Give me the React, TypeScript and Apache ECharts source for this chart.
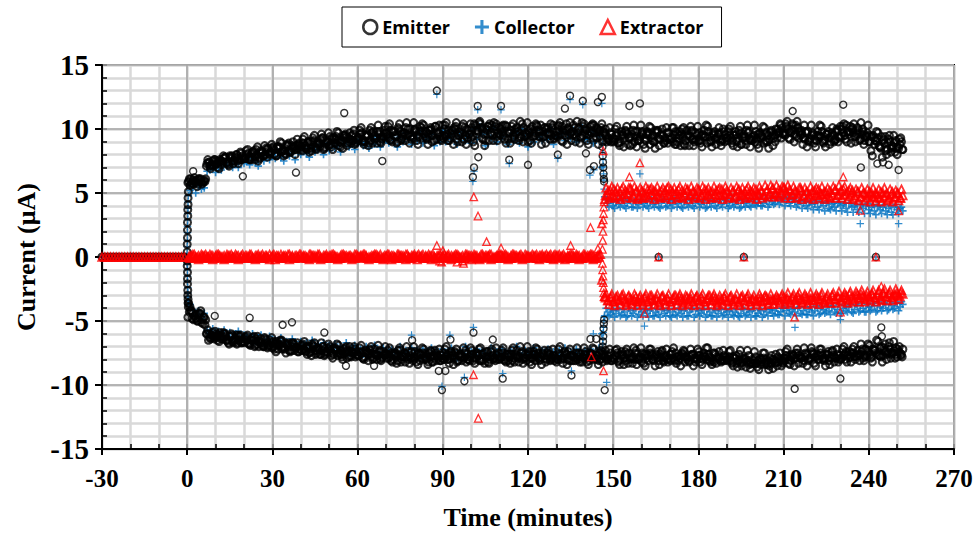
import React, { useEffect, useRef } from "react";
import * as echarts from "echarts";

// ---------- sampling of the readings (minutes) ----------
const firstReading = 1; // main readings every minute from t = 1
const readingStep = 1;
const firstHalfReading = 0.5;
const firstQ1Reading = 0.25;
const firstQ3Reading = 0.75;
const lateStartA = 147.5; // extra readings after the change-over
const lateStartB = 147.25;

// before the start (t < 0) every current is zero
const preMinutes = [-30,-29,-28,-27,-26,-25,-24,-23,-22,-21,-20,-19,-18,-17,-16,-15,-14,-13,-12,-11,-10,-9,-8,-7,-6,-5,-4,-3,-2,-1];
const preCurrent = [0,0,0,0,0,0,0,0,0,0,0,0,0,0,0,0,0,0,0,0,0,0,0,0,0,0,0,0,0,0];

// ---------- Emitter (µA) ----------
const emitterPos = [
5.6,6.0,5.8,6.1,5.9,6.0,7.3,7.1,7.5,7.2,
7.5,7.2,7.7,7.4,7.9,7.5,7.8,7.3,8.1,7.7,
8.0,7.6,8.2,7.8,7.5,8.3,7.9,8.4,8.0,8.5,
8.1,8.6,8.2,7.9,8.7,8.3,8.5,8.0,8.8,8.4,
8.9,8.5,8.2,9.0,8.6,8.8,9.2,8.4,9.1,8.7,
9.3,8.9,9.1,8.6,9.5,9.4,9.0,9.5,8.8,9.3,
9.6,9.1,9.4,8.9,9.7,9.2,9.8,9.0,9.4,9.7,
9.3,9.9,9.5,9.0,9.8,9.4,10.1,9.6,9.2,9.9,
9.5,10.2,9.3,9.8,9.6,10.0,9.1,9.7,9.4,10.3,
9.4,9.9,9.6,10.1,9.2,9.8,10.2,9.5,9.9,9.3,
10.4,9.6,10.6,10.0,9.1,10.2,9.7,10.5,9.4,10.1,
9.8,10.3,9.2,9.9,9.5,10.1,9.3,10.4,9.7,9.0,
10.0,9.4,10.3,9.8,9.5,10.1,9.6,10.4,9.2,9.8,
9.9,10.2,9.5,10.0,9.7,10.3,9.4,10.0,10.5,9.6,
9.6,10.2,9.3,10.1,9.8,10.4,9.6,9.2,9.7,9.0,
9.5,8.9,9.8,9.3,9.6,8.7,9.9,9.4,9.1,9.7,
9.2,9.8,8.8,9.5,9.9,9.3,9.6,8.9,9.7,9.4,
9.0,9.8,9.3,9.6,8.8,9.9,9.4,9.2,9.7,9.1,
9.5,9.9,8.9,9.4,9.7,9.2,9.6,8.7,9.8,9.3,
9.5,9.1,9.8,9.3,8.8,9.6,9.9,9.2,9.4,9.0,
9.6,9.3,8.9,9.7,9.2,9.5,9.0,10.0,10.3,9.7,
10.2,9.8,10.4,9.6,10.1,9.5,9.3,9.7,9.0,9.5,
9.2,9.8,9.4,8.9,9.6,9.3,9.7,9.1,9.9,10.2,
9.7,10.3,9.6,10.0,9.4,10.1,9.2,9.8,9.5,9.0,
9.4,8.8,9.3,8.6,9.1,8.3,9.2,8.5,8.9,8.0,
8.8,8.4];
const emitterPosHalf = [
5.9,5.7,6.2,5.5,6.0,5.8,6.1,7.4,7.2,7.6,
7.3,7.6,7.4,7.8,7.2,7.7,7.5,8.0,7.6,7.9,
7.7,8.1,7.8,8.3,8.0,7.7,8.2,8.0,8.5,8.2,
8.4,7.9,8.6,8.3,8.1,8.7,8.2,8.6,8.4,8.9,
8.3,8.7,9.0,8.5,9.1,8.4,8.9,9.3,8.6,9.0,
8.8,9.2,9.4,8.7,9.1,9.5,8.9,9.2,9.6,9.0,
9.3,9.7,9.0,9.5,9.1,9.8,9.3,9.6,9.2,9.9,
9.6,9.1,9.8,9.4,10.0,9.2,9.7,9.5,10.0,9.3,
9.8,9.4,10.1,9.6,9.2,9.9,9.5,10.2,9.7,9.1,
10.0,9.6,9.3,9.9,10.2,9.5,9.7,9.2,10.0,9.6,
9.4,10.3,9.8,10.1,9.6,9.9,10.4,9.5,10.2,9.7,
10.0,9.5,10.2,9.7,9.3,10.0,9.8,9.4,10.1,9.6,
9.7,10.2,9.5,9.9,10.3,9.4,10.0,9.7,10.1,9.5,
10.2,9.6,9.9,10.4,9.5,9.8,10.1,9.7,9.4,10.2,
9.9,9.5,10.3,9.7,10.0,9.4,9.8,9.5,9.1,9.6,
9.2,9.7,9.0,9.5,9.8,9.3,9.6,9.0,9.8,9.4,
9.6,9.1,9.7,9.3,9.0,9.8,9.2,9.5,9.1,9.7,
9.3,9.5,9.0,9.8,9.4,9.1,9.6,9.8,9.2,9.5,
9.1,9.6,9.4,9.8,9.0,9.5,9.3,9.7,9.1,9.6,
9.8,9.3,9.5,9.0,9.6,9.4,9.1,9.7,9.2,9.5,
9.2,9.7,9.4,9.0,9.5,9.8,9.3,9.6,9.8,10.1,
9.5,10.0,9.7,10.3,9.4,9.8,9.6,9.2,9.8,9.3,
9.6,9.1,9.5,9.8,9.2,9.6,9.0,9.5,9.8,9.4,
10.0,9.5,9.8,10.2,9.7,9.4,9.9,9.6,9.1,9.7,
9.0,9.5,9.1,8.7,9.4,8.9,8.4,9.0,8.6,9.1,
8.5,9.0];
const emitterPosQ1 = [
5.8,6.1,5.7,6.0,6.1,5.7,5.9,7.6,6.9,7.2,
7.5,6.9,7.5,7.8,7.3,7.8,7.3,8.0,7.7,7.6,
7.7,8.4,7.6,8.2,8.4,7.8,8.2,8.7,7.8,8.2,
8.6,7.9,8.5,8.9,8.3,8.8,8.2,9.0,8.7,8.5,
8.6,9.4,8.4,9.0,9.3,8.5,9.0,9.6,8.5,8.9,
9.4,8.4,9.2,9.7,8.9,9.3,8.7,9.7,9.1,8.9,
9.1,10.1,8.8,9.6,9.9,8.9,9.5,10.3,8.9,9.6,
9.4,10.4,9.0,9.8,10.1,9.1,9.7,10.5,8.9,9.5,
10.0,8.8,9.8,10.3,9.3,9.9,9.0,10.2,9.6,9.2,
9.3,10.5,9.1,9.9,10.0,9.0,9.6,10.4,8.8,9.6,
10.1,8.7,9.9,10.4,9.2,10.0,9.1,10.3,9.7,9.1,
9.5,10.3,8.9,9.7,10.2,9.2,9.8,10.6,9.0,9.4,
9.9,8.9,9.7,10.2,9.4,9.8,8.9,10.1,9.5,9.3,
9.4,10.5,9.0,9.9,10.1,9.1,9.6,10.6,8.9,9.5,
10.0,8.8,9.7,10.3,9.3,9.9,9.0,10.0,9.3,9.0,
9.1,10.2,8.7,9.6,9.9,8.8,9.4,10.3,8.6,9.2,
9.8,8.5,9.5,10.1,9.0,9.7,8.7,10.0,9.3,8.9,
9.2,10.1,8.8,9.5,10.0,8.7,9.5,10.2,8.7,9.1,
9.7,8.6,9.4,10.2,9.1,9.6,8.8,10.1,9.2,9.0,
9.1,10.2,8.7,9.6,9.9,8.8,9.4,10.3,8.6,9.2,
9.8,8.5,9.5,10.1,9.0,9.7,8.7,10.0,9.7,9.3,
9.6,10.6,9.2,10.0,10.3,9.3,9.9,10.3,8.6,9.2,
9.7,8.6,9.4,10.2,9.1,9.6,8.8,10.1,9.2,9.0,
9.4,10.4,9.0,9.8,10.1,9.0,9.7,10.5,8.8,9.4,
9.5,7.9,9.1,9.7,8.5,9.2,8.0,9.5,8.7,8.2,
8.6,9.3];
const emitterPosQ3 = [
6.1,5.8,5.9,5.7,6.1,5.9,7.1,7.4,7.1,7.6,
7.0,7.5,7.9,7.4,7.1,7.9,7.7,7.5,8.2,7.8,
8.3,7.7,8.1,7.6,8.6,8.1,7.9,8.5,8.1,8.8,
8.0,8.6,9.0,8.3,8.0,8.9,8.7,8.4,9.2,8.7,
9.2,8.5,9.0,8.3,9.5,8.9,8.6,9.3,8.8,9.7,
8.6,9.3,9.8,9.0,8.5,9.6,9.3,8.9,9.9,9.2,
9.9,9.0,9.5,8.7,10.1,9.4,8.9,9.8,9.3,10.2,
10.2,9.2,9.8,8.9,10.4,9.6,9.1,10.0,9.4,10.5,
9.1,9.8,10.4,9.4,8.8,10.1,9.7,9.2,10.3,9.5,
10.3,9.1,9.7,8.8,10.5,9.5,9.0,10.1,9.3,10.4,
9.0,9.9,10.5,9.3,8.7,10.2,9.6,9.1,10.4,9.6,
10.2,9.2,9.8,8.9,10.4,9.6,9.1,10.0,9.4,10.5,
9.1,9.8,10.4,9.4,8.8,10.1,9.7,9.2,10.3,9.5,
10.3,9.1,9.7,8.8,10.5,9.5,9.0,10.1,9.3,10.4,
9.1,9.8,10.4,9.4,8.8,10.1,9.7,9.0,10.1,9.3,
10.0,8.9,9.5,8.6,10.2,9.3,8.8,9.8,9.1,10.3,
8.8,9.6,10.2,9.1,8.5,9.9,9.5,8.9,10.1,9.2,
10.1,8.8,9.6,8.7,10.1,9.4,8.7,9.9,9.0,10.2,
8.9,9.5,10.3,9.0,8.6,9.8,9.4,9.0,10.0,9.3,
10.0,8.9,9.5,8.6,10.2,9.3,8.8,9.8,9.1,10.3,
8.8,9.6,10.2,9.1,8.5,9.9,9.5,9.3,10.4,9.6,
10.4,9.3,9.9,9.0,10.6,9.7,8.8,9.8,9.1,10.3,
8.9,9.5,10.3,9.0,8.6,9.8,9.4,9.0,10.0,9.3,
10.2,9.2,9.8,8.9,10.4,9.6,9.1,10.0,9.4,10.3,
8.3,9.3,9.8,8.6,7.8,9.4,8.9,8.2,9.5,8.5,
9.2,8.4];
const emitterNeg = [
-3.9,-4.4,-4.8,-4.5,-5.1,-4.7,-6.0,-6.3,-5.9,-6.2,
-6.1,-6.4,-6.0,-6.5,-6.2,-6.6,-6.3,-6.1,-6.7,-6.4,
-6.5,-6.8,-6.3,-6.9,-6.6,-6.4,-7.0,-6.7,-6.5,-7.1,
-6.8,-7.2,-6.6,-7.0,-6.9,-7.3,-6.7,-7.1,-7.4,-6.9,
-7.2,-7.0,-7.5,-6.8,-7.3,-7.1,-7.6,-7.0,-7.4,-7.2,
-7.5,-7.1,-7.7,-7.3,-7.6,-7.0,-7.8,-7.4,-7.2,-7.7,
-7.5,-7.9,-7.3,-7.6,-7.8,-7.2,-7.7,-8.0,-7.4,-7.6,
-7.9,-7.5,-7.7,-8.1,-7.3,-7.8,-7.6,-8.0,-7.4,-7.9,
-7.6,-8.1,-7.5,-7.8,-8.2,-7.4,-7.9,-7.7,-8.1,-7.5,
-7.8,-8.0,-7.4,-7.9,-8.2,-7.6,-7.8,-7.3,-8.0,-7.7,
-7.9,-7.5,-8.1,-7.6,-7.8,-8.2,-7.4,-7.9,-7.7,-8.0,
-7.5,-7.8,-8.1,-7.6,-7.9,-7.3,-7.8,-8.0,-7.6,-7.7,
-7.9,-7.4,-7.8,-8.1,-7.6,-7.9,-7.5,-8.0,-7.7,-8.2,
-7.6,-7.9,-7.4,-8.0,-7.7,-8.1,-7.5,-7.8,-8.2,-7.6,
-7.9,-7.5,-8.0,-7.7,-8.1,-7.6,-7.8,-8.0,-7.5,-7.9,
-7.7,-8.1,-7.4,-7.9,-7.6,-8.0,-7.8,-7.3,-7.9,-8.2,
-7.6,-7.9,-7.5,-8.0,-7.7,-8.1,-7.4,-7.8,-8.0,-7.6,
-7.9,-7.5,-8.1,-7.7,-7.4,-8.0,-7.8,-7.6,-8.2,-7.7,
-7.9,-7.5,-8.0,-7.8,-8.1,-7.6,-7.9,-8.2,-7.7,-8.0,
-7.8,-8.2,-7.9,-8.1,-8.3,-7.9,-8.2,-8.4,-8.0,-8.3,
-8.1,-8.4,-7.9,-8.2,-8.5,-8.0,-8.3,-7.8,-8.1,-7.9,
-7.7,-8.0,-7.6,-7.9,-7.5,-7.8,-8.1,-7.6,-7.9,-7.4,
-7.8,-8.0,-7.5,-7.9,-7.7,-8.1,-7.4,-7.8,-7.6,-8.0,
-7.7,-7.4,-7.9,-7.5,-7.8,-7.3,-7.6,-7.9,-7.2,-7.5,
-7.8,-7.3,-7.6,-7.1,-7.7,-7.4,-7.0,-7.6,-7.3,-7.8,
-7.5,-7.2];
const emitterNegHalf = [
-3.6,-4.2,-4.6,-5.0,-4.4,-5.2,-4.9,-6.5,-6.1,-6.4,
-6.3,-5.9,-6.4,-6.2,-6.7,-6.0,-6.5,-6.8,-6.2,-6.6,
-6.3,-6.7,-6.5,-6.2,-6.8,-6.6,-6.9,-6.4,-7.0,-6.7,
-7.0,-6.6,-6.9,-7.2,-6.7,-7.0,-7.3,-6.8,-7.1,-7.2,
-6.9,-7.3,-7.1,-7.4,-7.0,-7.5,-7.2,-7.3,-7.6,-7.1,
-7.3,-7.6,-7.2,-7.5,-7.8,-7.4,-7.3,-7.7,-7.5,-7.4,
-7.7,-7.4,-7.8,-7.5,-7.3,-7.9,-7.6,-7.4,-7.9,-7.7,
-7.6,-7.8,-8.0,-7.5,-7.7,-8.0,-7.5,-7.8,-7.7,-8.1,
-7.8,-7.5,-7.9,-8.0,-7.6,-7.8,-8.2,-7.5,-7.9,-7.7,
-8.0,-7.6,-7.9,-7.7,-7.5,-8.1,-7.7,-7.9,-7.6,-8.1,
-7.6,-7.9,-7.7,-8.1,-7.5,-7.8,-8.0,-7.7,-8.1,-7.5,
-7.8,-8.0,-7.6,-7.8,-8.1,-7.6,-7.9,-7.5,-7.9,-8.1,
-7.6,-7.9,-8.1,-7.5,-7.8,-7.7,-8.0,-7.6,-7.9,-7.8,
-8.0,-7.7,-7.9,-7.6,-8.1,-7.7,-7.9,-8.0,-7.6,-7.9,
-7.7,-8.1,-7.6,-7.9,-7.7,-8.0,-7.6,-7.9,-7.7,-8.1,
-7.8,-7.5,-8.0,-7.7,-8.1,-7.5,-7.9,-8.0,-7.6,-7.8,
-7.9,-7.7,-8.1,-7.6,-7.8,-7.9,-7.6,-8.1,-7.7,-7.9,
-7.6,-8.0,-7.8,-7.9,-7.6,-7.8,-8.1,-7.7,-7.9,-8.0,
-7.7,-8.0,-7.8,-7.6,-7.9,-8.2,-7.8,-7.9,-8.1,-7.8,
-8.0,-8.1,-7.8,-8.3,-8.0,-8.2,-7.9,-8.1,-8.3,-8.1,
-8.3,-8.0,-8.2,-8.4,-8.1,-8.3,-8.0,-8.2,-7.9,-8.2,
-7.9,-7.8,-8.1,-7.7,-7.9,-7.7,-7.9,-7.8,-7.7,-7.9,
-7.6,-7.8,-8.0,-7.7,-7.9,-7.6,-7.9,-7.7,-7.9,-7.7,
-7.9,-7.6,-7.7,-7.8,-7.5,-7.8,-7.7,-7.4,-7.7,-7.3,
-7.6,-7.2,-7.5,-7.7,-7.0,-7.3,-7.6,-7.2,-7.5,-7.1,
-7.4,-7.6];
const emitterNegQ1 = [
-4.7,-4.2,-4.9,-4.5,-4.4,-4.9,-5.3,-5.7,-6.4,-6.2,
-6.0,-6.6,-6.2,-6.0,-6.5,-6.2,-6.7,-6.1,-6.5,-6.7,
-6.7,-6.1,-6.9,-6.5,-6.4,-7.0,-6.7,-6.3,-7.1,-6.9,
-6.6,-7.4,-6.8,-6.5,-7.2,-6.8,-7.4,-6.7,-7.1,-7.4,
-7.3,-6.6,-7.6,-7.0,-6.9,-7.6,-7.2,-6.7,-7.7,-7.4,
-7.0,-7.9,-7.3,-6.9,-7.6,-7.2,-7.9,-7.0,-7.5,-7.8,
-7.7,-6.9,-8.0,-7.4,-7.2,-8.0,-7.6,-6.9,-8.1,-7.6,
-7.9,-7.1,-8.2,-7.6,-7.3,-8.2,-7.7,-7.0,-8.3,-7.9,
-7.4,-8.4,-7.6,-7.2,-8.0,-7.5,-8.2,-7.3,-7.8,-8.1,
-8.0,-7.0,-8.3,-7.5,-7.4,-8.1,-7.8,-7.1,-8.2,-7.8,
-7.3,-8.3,-7.7,-7.1,-8.1,-7.4,-8.3,-7.2,-7.9,-8.0,
-7.9,-7.1,-8.2,-7.6,-7.3,-8.2,-7.7,-7.0,-8.3,-7.9,
-7.4,-8.4,-7.6,-7.2,-8.0,-7.5,-8.2,-7.3,-7.8,-8.1,
-8.0,-7.0,-8.3,-7.5,-7.4,-8.1,-7.8,-7.1,-8.2,-7.8,
-7.4,-8.4,-7.6,-7.2,-8.0,-7.5,-8.2,-7.3,-7.8,-8.1,
-8.0,-7.2,-8.4,-7.6,-7.4,-8.3,-7.8,-7.1,-8.4,-8.0,
-7.5,-8.5,-7.7,-7.2,-8.1,-7.6,-8.4,-7.3,-7.9,-8.2,
-8.1,-7.1,-8.3,-7.7,-7.5,-8.2,-7.9,-7.2,-8.5,-7.9,
-7.4,-8.4,-7.8,-7.1,-8.2,-7.5,-8.3,-7.4,-8.0,-8.1,
-8.1,-7.3,-8.5,-7.7,-7.6,-8.5,-8.0,-7.3,-8.7,-8.3,
-7.8,-8.8,-8.0,-7.5,-8.4,-7.9,-8.7,-7.6,-8.2,-8.5,
-8.1,-7.2,-8.4,-7.7,-7.5,-8.3,-7.9,-7.1,-8.5,-8.0,
-7.5,-8.5,-7.7,-7.2,-8.1,-7.6,-8.4,-7.3,-7.9,-8.2,
-7.9,-7.0,-8.2,-7.4,-7.2,-8.0,-7.6,-6.8,-8.1,-7.7,
-6.9,-8.2,-7.3,-6.6,-7.8,-7.1,-8.0,-6.7,-7.5,-7.9,
-7.2,-7.7];
const emitterNegQ3 = [
-4.3,-4.8,-4.6,-5.0,-4.2,-4.7,-6.0,-6.0,-6.3,-5.8,
-6.5,-6.2,-5.9,-6.5,-6.8,-6.1,-6.4,-6.7,-6.1,-6.6,
-6.2,-6.8,-6.5,-7.0,-6.2,-6.7,-7.0,-6.5,-6.9,-6.3,
-7.2,-6.8,-6.5,-7.1,-7.5,-6.7,-7.0,-7.3,-6.7,-7.2,
-6.8,-7.4,-7.1,-7.7,-6.7,-7.3,-7.6,-7.0,-7.5,-6.8,
-7.7,-7.2,-6.8,-7.6,-8.0,-7.1,-7.4,-7.8,-7.0,-7.6,
-7.1,-7.9,-7.5,-8.1,-7.0,-7.6,-8.0,-7.3,-7.8,-7.0,
-7.3,-8.1,-7.6,-8.3,-7.1,-7.8,-8.2,-7.4,-7.9,-7.0,
-8.2,-7.6,-7.1,-7.9,-8.4,-7.3,-7.7,-8.1,-7.2,-7.9,
-7.2,-8.0,-7.7,-8.4,-7.2,-7.7,-8.1,-7.5,-8.0,-7.1,
-8.1,-7.5,-7.2,-8.0,-8.3,-7.4,-7.8,-8.0,-7.1,-7.8,
-7.3,-8.1,-7.6,-8.3,-7.1,-7.8,-8.2,-7.4,-7.9,-7.0,
-8.2,-7.6,-7.1,-7.9,-8.4,-7.3,-7.7,-8.1,-7.2,-7.9,
-7.2,-8.0,-7.7,-8.4,-7.2,-7.7,-8.1,-7.5,-8.0,-7.1,
-8.2,-7.6,-7.1,-7.9,-8.4,-7.3,-7.7,-8.1,-7.2,-7.9,
-7.3,-8.2,-7.7,-8.4,-7.2,-7.9,-8.3,-7.5,-8.0,-7.1,
-8.3,-7.6,-7.2,-8.0,-8.5,-7.4,-7.8,-8.2,-7.2,-8.0,
-7.4,-8.1,-7.8,-8.5,-7.3,-7.8,-8.2,-7.6,-7.9,-7.2,
-8.2,-7.7,-7.1,-8.1,-8.4,-7.5,-7.9,-8.1,-7.3,-7.9,
-7.4,-8.3,-7.9,-8.6,-7.3,-8.1,-8.6,-7.7,-8.3,-7.4,
-8.6,-7.9,-7.5,-8.3,-8.8,-7.7,-8.1,-8.5,-7.5,-8.3,
-7.4,-8.3,-7.8,-8.5,-7.2,-7.9,-8.3,-7.5,-8.1,-7.1,
-8.3,-7.6,-7.2,-8.0,-8.5,-7.4,-7.8,-8.2,-7.2,-8.0,
-7.2,-8.0,-7.6,-8.2,-7.0,-7.7,-8.1,-7.2,-7.8,-6.8,
-7.9,-7.2,-6.5,-7.7,-8.2,-6.8,-7.4,-7.9,-6.6,-7.6,
-7.0,-7.8];

// ---------- Collector (µA) ----------
const collectorPos = [
5.2,5.5,5.0,5.6,5.3,5.4,6.7,6.8,7.0,6.6,
7.0,6.8,7.2,7.1,7.4,7.0,7.3,7.0,7.6,7.3,
7.5,7.2,7.7,7.4,7.1,7.9,7.5,8.0,7.6,8.0,
7.7,8.2,7.8,7.5,8.3,7.9,8.1,7.6,8.4,8.0,
8.5,8.1,7.8,8.6,8.2,8.4,8.8,8.0,8.7,8.3,
8.9,8.5,8.7,8.2,9.1,9.0,8.6,9.1,8.4,8.9,
9.2,8.7,9.0,8.5,9.3,8.8,9.4,8.6,9.0,9.3,
8.9,9.5,9.1,8.6,9.4,9.0,9.7,9.2,8.8,9.5,
9.1,9.8,8.9,9.4,9.2,9.6,8.7,9.3,9.0,9.9,
9.0,9.5,9.2,9.7,8.8,9.4,9.8,9.1,9.5,8.9,
10.0,9.2,10.2,9.6,8.7,9.8,9.3,10.1,9.0,9.7,
9.4,9.9,8.8,9.5,9.1,9.7,8.9,10.0,9.3,8.6,
9.6,9.0,9.9,9.4,9.1,9.7,9.2,10.0,8.8,9.4,
9.5,9.8,9.1,9.6,9.3,9.9,9.0,9.6,10.1,9.2,
9.2,9.8,8.9,9.7,9.4,7.0,4.7,4.2,4.4,4.0,
4.3,4.1,4.5,4.0,4.2,4.4,3.9,4.3,4.1,4.4,
4.2,4.0,4.4,4.1,4.3,3.9,4.2,4.5,4.0,4.3,
4.1,4.4,4.2,3.9,4.3,4.1,4.5,4.0,4.2,4.4,
4.1,4.3,3.9,4.2,4.4,4.0,4.3,4.1,4.5,4.2,
4.0,4.3,4.1,4.4,3.9,4.2,4.3,4.0,4.4,4.1,
4.3,4.0,4.2,4.4,4.1,4.3,4.2,4.5,4.3,4.6,
4.4,4.2,4.5,4.3,4.1,4.4,4.2,4.0,4.3,4.1,
4.2,3.9,4.3,4.0,4.2,3.8,4.1,3.9,4.2,4.0,
4.1,3.8,4.2,3.9,4.0,3.7,4.1,3.8,4.0,3.7,
3.9,3.6,4.0,3.7,3.9,3.6,3.8,3.5,3.9,3.7,
3.8,3.6];
const collectorPosLate = [
4.5,3.9,4.4,3.8,4.5,3.9,4.4,3.8,4.5,3.9,
4.4,3.8,4.5,3.9,4.4,3.8,4.5,3.9,4.4,3.8,
4.5,3.9,4.4,3.8,4.5,3.9,4.4,3.8,4.5,3.9,
4.4,3.8,4.5,3.9,4.4,3.8,4.5,3.9,4.4,3.8,
4.5,3.9,4.4,3.8,4.5,3.9,4.4,3.8,4.5,3.9,
4.4,3.9,4.5,4.0,4.6,4.0,4.5,3.9,4.6,4.1,
4.7,4.1,4.6,4.0,4.7,4.0,4.5,3.9,4.4,3.8,
4.4,3.8,4.3,3.7,4.4,3.7,4.3,3.6,4.3,3.7,
4.2,3.6,4.3,3.6,4.2,3.5,4.2,3.5,4.1,3.5,
4.1,3.4,4.2,3.4,4.1,3.3,4.0,3.4,4.1,3.3,
4.0,3.3,4.1,3.4,3.9];
const collectorNeg = [
-3.7,-4.1,-4.5,-4.2,-4.8,-4.4,-5.7,-6.0,-5.6,-5.9,
-5.8,-6.1,-5.7,-6.2,-5.9,-6.3,-6.0,-5.8,-6.4,-6.1,
-6.2,-6.5,-6.0,-6.6,-6.3,-6.1,-6.7,-6.4,-6.2,-6.8,
-6.5,-6.9,-6.3,-6.7,-6.6,-7.0,-6.4,-6.8,-7.1,-6.6,
-6.9,-6.7,-7.2,-6.5,-7.0,-6.8,-7.3,-6.7,-7.1,-6.9,
-7.2,-6.8,-7.4,-7.0,-7.3,-6.7,-7.5,-7.1,-6.9,-7.4,
-7.2,-7.6,-7.0,-7.3,-7.5,-6.9,-7.4,-7.7,-7.1,-7.3,
-7.6,-7.2,-7.4,-7.8,-7.0,-7.5,-7.3,-7.7,-7.1,-7.6,
-7.3,-7.8,-7.2,-7.5,-7.9,-7.1,-7.6,-7.4,-7.8,-7.2,
-7.5,-7.7,-7.1,-7.6,-7.9,-7.3,-7.5,-7.0,-7.7,-7.4,
-7.6,-7.2,-7.8,-7.3,-7.5,-7.9,-7.1,-7.6,-7.4,-7.7,
-7.2,-7.5,-7.8,-7.3,-7.6,-7.0,-7.5,-7.7,-7.3,-7.4,
-7.6,-7.1,-7.5,-7.8,-7.3,-7.6,-7.2,-7.7,-7.4,-7.9,
-7.3,-7.6,-7.1,-7.7,-7.4,-7.8,-7.2,-7.5,-7.9,-7.3,
-7.6,-7.2,-7.7,-7.4,-7.1,-6.0,-4.6,-4.3,-4.5,-4.2,
-4.4,-4.1,-4.5,-4.3,-4.6,-4.2,-4.4,-4.0,-4.5,-4.3,
-4.1,-4.4,-4.2,-4.6,-4.3,-4.5,-4.1,-4.4,-4.2,-4.6,
-4.3,-4.5,-4.1,-4.4,-4.2,-4.6,-4.3,-4.0,-4.5,-4.2,
-4.4,-4.1,-4.5,-4.3,-4.6,-4.2,-4.4,-4.1,-4.5,-4.3,
-4.2,-4.5,-4.3,-4.6,-4.4,-4.1,-4.5,-4.3,-4.2,-4.6,
-4.4,-4.2,-4.5,-4.3,-4.1,-4.4,-4.2,-4.5,-4.3,-4.0,
-4.2,-4.4,-4.1,-4.3,-4.0,-4.4,-4.2,-4.5,-4.1,-4.3,
-4.2,-4.0,-4.4,-4.1,-4.3,-4.2,-3.9,-4.3,-4.1,-4.4,
-4.0,-4.2,-3.9,-4.3,-4.1,-3.8,-4.2,-4.0,-4.3,-3.9,
-4.1,-3.8,-4.2,-3.9,-4.0,-3.7,-4.1,-3.8,-4.0,-3.6,
-3.9,-3.7];
const collectorNegLate = [
-4.0,-4.6,-4.1,-4.7,-4.0,-4.6,-4.1,-4.7,-4.0,-4.6,
-4.1,-4.7,-4.0,-4.6,-4.1,-4.7,-4.0,-4.6,-4.1,-4.7,
-4.0,-4.6,-4.1,-4.7,-4.0,-4.6,-4.1,-4.7,-4.0,-4.6,
-4.1,-4.7,-4.0,-4.6,-4.1,-4.7,-4.0,-4.6,-4.1,-4.7,
-4.0,-4.6,-4.1,-4.7,-4.0,-4.6,-4.1,-4.7,-4.0,-4.6,
-4.1,-4.7,-4.0,-4.6,-4.1,-4.7,-4.0,-4.6,-4.1,-4.6,
-4.0,-4.5,-4.0,-4.6,-3.9,-4.5,-4.0,-4.6,-3.9,-4.5,
-3.9,-4.5,-3.9,-4.6,-3.8,-4.5,-3.9,-4.4,-3.8,-4.5,
-3.8,-4.4,-3.7,-4.4,-3.8,-4.3,-3.7,-4.4,-3.7,-4.3,
-3.6,-4.3,-3.7,-4.2,-3.6,-4.3,-3.5,-4.2,-3.6,-4.2,
-3.5,-4.1,-3.6,-4.2,-3.5];

// ---------- Extractor (µA) ----------
const extractorPos = [
0.1,0.2,0.0,0.1,0.2,0.1,0.0,0.2,0.1,0.1,
0.2,0.0,0.1,0.2,0.1,0.0,0.2,0.1,0.1,0.0,
0.1,0.2,0.0,0.1,0.2,0.1,0.0,0.1,0.2,0.1,
0.0,0.1,0.2,0.1,0.0,0.2,0.1,0.1,0.0,0.2,
0.1,0.0,0.2,0.1,0.1,0.2,0.0,0.1,0.2,0.1,
0.2,0.1,0.0,0.1,0.2,0.1,0.1,0.0,0.2,0.1,
0.1,0.2,0.1,0.0,0.1,0.2,0.1,0.2,0.0,0.1,
0.2,0.1,0.0,0.2,0.1,0.1,0.2,0.0,0.1,0.2,
0.1,0.0,0.2,0.1,0.2,0.1,0.0,0.1,0.2,0.1,
0.0,0.2,0.1,0.1,0.2,0.0,0.1,0.2,0.1,0.1,
0.2,0.1,0.0,0.2,0.1,0.1,0.2,0.0,0.1,0.2,
0.1,0.2,0.0,0.1,0.2,0.1,0.1,0.0,0.2,0.1,
0.0,0.1,0.2,0.1,0.2,0.1,0.0,0.2,0.1,0.1,
0.2,0.1,0.0,0.1,0.2,0.1,0.2,0.1,0.0,0.2,
0.1,0.2,0.1,0.0,0.2,2.6,4.5,4.9,5.2,4.8,
5.1,4.7,5.3,4.9,5.0,5.4,4.8,5.1,4.6,5.2,
5.0,4.8,5.3,4.9,5.1,4.7,5.2,5.0,5.4,4.8,
5.1,4.9,5.3,4.7,5.0,5.2,4.8,5.1,4.9,5.3,
4.8,5.0,5.2,4.7,5.1,4.9,5.3,4.8,5.0,5.2,
4.9,5.1,4.7,5.2,5.0,4.8,5.3,4.9,5.1,4.8,
5.0,5.2,4.8,5.1,4.9,5.3,5.0,4.8,5.2,5.4,
5.1,5.3,4.9,5.2,5.0,5.4,4.8,5.1,4.9,5.0,
5.2,4.8,5.0,4.9,5.1,4.7,5.0,5.2,4.8,5.1,
5.3,4.9,5.2,5.0,4.8,5.1,4.7,5.0,4.9,4.8,
5.0,4.7,4.9,4.6,5.0,4.8,4.5,4.9,4.7,5.0,
4.6,4.8];
const extractorFlatHalf = [
0.0,0.1,0.2,0.0,-0.1,0.1,0.2,0.0,0.1,-0.1,
0.2,0.1,0.0,-0.1,0.1,0.2,0.0,0.1,-0.1,0.2,
0.1,0.0,0.2,-0.1,0.1,0.0,0.2,0.1,-0.1,0.0,
0.2,0.1,-0.1,0.0,0.1,0.2,0.0,-0.1,0.1,0.2,
0.0,0.1,-0.1,0.2,0.1,0.0,0.2,-0.1,0.1,0.0,
0.1,0.2,0.0,-0.1,0.2,0.1,0.0,0.1,-0.1,0.2,
0.0,0.1,0.2,-0.1,0.0,0.1,0.2,0.0,-0.1,0.1,
0.2,0.0,0.1,-0.1,0.2,0.1,0.0,0.2,-0.1,0.1,
0.0,0.2,0.1,-0.1,0.0,0.1,0.2,-0.1,0.1,0.0,
0.2,0.1,-0.1,0.0,0.2,0.1,0.0,-0.1,0.2,0.1,
0.0,0.1,-0.1,0.2,0.0,0.1,0.2,-0.1,0.0,0.1,
0.2,0.0,0.1,-0.1,0.2,0.1,0.0,0.2,-0.1,0.1,
0.0,0.2,0.1,-0.1,0.1,0.0,0.2,0.1,-0.1,0.2,
0.1,0.0,0.2,-0.1,0.1,0.2,0.0,0.1,-0.1,0.2,
0.0,0.1,0.2,-0.1,0.1,0.2];
const extractorPosLateA = [
5.4,4.6,5.5,4.6,5.4,4.5,5.5,4.6,5.4,4.6,
5.5,4.5,5.4,4.6,5.5,4.6,5.4,4.5,5.5,4.6,
5.4,4.6,5.5,4.5,5.4,4.6,5.5,4.6,5.4,4.5,
5.5,4.6,5.4,4.6,5.5,4.5,5.4,4.6,5.5,4.6,
5.4,4.5,5.5,4.6,5.4,4.6,5.5,4.5,5.4,4.6,
5.5,4.6,5.4,4.5,5.5,4.6,5.6,4.7,5.6,4.7,
5.6,4.7,5.5,4.6,5.6,4.6,5.5,4.6,5.4,4.5,
5.4,4.6,5.5,4.5,5.4,4.6,5.5,4.5,5.4,4.6,
5.5,4.6,5.6,4.6,5.5,4.5,5.4,4.5,5.3,4.4,
5.4,4.4,5.3,4.3,5.4,4.4,5.3,4.3,5.4,4.4,
5.3,4.3,5.2,4.4,5.3];
const extractorPosLateB = [
4.8,5.2,4.7,5.3,4.8,5.1,4.7,5.2,4.9,5.3,
4.7,5.2,4.8,5.1,4.7,5.3,4.9,5.2,4.8,5.1,
4.7,5.2,4.8,5.3,4.9,5.1,4.7,5.2,4.8,5.3,
4.9,5.1,4.7,5.2,4.8,5.3,4.9,5.1,4.7,5.2,
4.8,5.3,4.9,5.1,4.7,5.2,4.8,5.3,4.9,5.1,
4.7,5.2,4.8,5.3,4.9,5.1,4.8,5.3,5.0,5.4,
4.9,5.3,5.0,5.4,4.8,5.2,4.9,5.1,4.7,5.2,
4.8,5.1,4.7,5.2,4.8,5.3,4.9,5.1,4.7,5.2,
4.8,5.3,4.9,5.2,4.8,5.1,4.7,5.2,4.6,5.1,
4.7,5.0,4.6,5.1,4.7,5.0,4.6,5.1,4.7,5.0,
4.6,5.1,4.7,5.0,4.6];
const extractorNeg = [
-0.1,0.0,-0.1,-0.2,0.0,-0.1,0.0,-0.1,-0.2,0.0,
0.0,-0.1,-0.2,0.0,-0.1,0.0,-0.1,-0.2,0.0,-0.1,
-0.1,0.0,-0.1,-0.2,0.0,-0.1,-0.1,0.0,-0.2,0.0,
-0.2,0.0,-0.1,0.0,-0.1,-0.2,0.0,-0.1,0.0,-0.1,
0.0,-0.1,-0.2,0.0,-0.1,0.0,-0.2,-0.1,0.0,-0.1,
-0.1,0.0,-0.2,-0.1,0.0,-0.1,0.0,-0.2,-0.1,0.0,
0.0,-0.1,0.0,-0.2,-0.1,0.0,-0.1,-0.1,-0.2,0.0,
-0.1,-0.2,0.0,-0.1,0.0,-0.1,-0.2,0.0,-0.1,0.0,
-0.2,0.0,-0.1,0.0,-0.1,-0.2,0.0,-0.1,-0.3,0.0,
-0.1,0.0,-0.2,-0.1,0.0,-0.1,-0.3,0.0,-0.1,-0.2,
0.0,-0.1,-0.2,0.0,-0.1,0.0,-0.2,-0.1,0.0,-0.1,
-0.1,0.0,-0.2,-0.1,0.0,-0.1,0.0,-0.2,-0.1,0.0,
0.0,-0.1,-0.1,-0.2,0.0,-0.1,0.0,-0.1,-0.2,0.0,
-0.1,0.0,-0.2,0.0,-0.1,-0.1,0.0,-0.2,-0.1,0.0,
-0.1,0.0,-0.2,-0.1,0.0,-1.8,-3.1,-3.4,-3.2,-3.5,
-3.1,-3.4,-3.0,-3.3,-3.6,-3.2,-3.4,-3.1,-3.5,-3.3,
-3.2,-3.5,-3.0,-3.4,-3.3,-3.6,-3.1,-3.4,-3.2,-3.5,
-3.3,-3.0,-3.4,-3.2,-3.6,-3.1,-3.3,-3.5,-3.2,-3.4,
-3.1,-3.5,-3.3,-3.0,-3.4,-3.2,-3.6,-3.3,-3.1,-3.4,
-3.2,-3.5,-3.3,-3.6,-3.1,-3.4,-3.2,-3.5,-3.3,-3.4,
-3.5,-3.2,-3.4,-3.1,-3.6,-3.3,-3.4,-3.2,-3.5,-3.1,
-3.3,-3.5,-3.2,-3.4,-3.0,-3.3,-3.5,-3.1,-3.4,-3.2,
-3.4,-3.1,-3.3,-3.5,-3.2,-3.4,-3.0,-3.3,-3.1,-3.4,
-3.2,-3.0,-3.4,-3.1,-3.3,-2.9,-3.2,-3.0,-3.3,-3.1,
-2.9,-3.2,-3.0,-3.3,-2.8,-3.1,-2.9,-3.2,-3.0,-2.8,
-3.1,-2.9];
const extractorNegLateA = [
-2.9,-3.7,-2.9,-3.8,-3.0,-3.7,-2.9,-3.8,-3.0,-3.7,
-2.9,-3.8,-3.0,-3.7,-2.9,-3.8,-3.0,-3.7,-2.9,-3.8,
-3.0,-3.7,-2.9,-3.8,-3.0,-3.7,-2.9,-3.8,-3.0,-3.7,
-2.9,-3.8,-3.0,-3.7,-2.9,-3.8,-3.0,-3.7,-2.9,-3.8,
-3.0,-3.7,-2.9,-3.8,-3.0,-3.7,-2.9,-3.8,-3.0,-3.7,
-2.9,-3.8,-3.0,-3.7,-2.9,-3.8,-3.0,-3.7,-2.9,-3.7,
-3.0,-3.6,-2.9,-3.7,-2.8,-3.6,-2.9,-3.7,-2.8,-3.6,
-2.9,-3.7,-2.8,-3.6,-2.9,-3.7,-2.8,-3.6,-2.9,-3.6,
-2.8,-3.6,-2.7,-3.5,-2.8,-3.6,-2.7,-3.5,-2.7,-3.5,
-2.6,-3.5,-2.7,-3.4,-2.6,-3.5,-2.6,-3.4,-2.5,-3.4,
-2.6,-3.4,-2.5,-3.3,-2.6];
const extractorNegLateB = [
-3.2,-3.4,-3.1,-3.5,-3.3,-3.4,-3.2,-3.5,-3.1,-3.4,
-3.3,-3.5,-3.2,-3.4,-3.1,-3.5,-3.3,-3.4,-3.2,-3.5,
-3.1,-3.4,-3.3,-3.5,-3.2,-3.4,-3.1,-3.5,-3.3,-3.4,
-3.2,-3.5,-3.1,-3.4,-3.3,-3.5,-3.2,-3.4,-3.1,-3.5,
-3.3,-3.4,-3.2,-3.5,-3.1,-3.4,-3.3,-3.5,-3.2,-3.4,
-3.1,-3.5,-3.3,-3.4,-3.2,-3.5,-3.1,-3.4,-3.3,-3.4,
-3.2,-3.4,-3.1,-3.3,-3.2,-3.4,-3.1,-3.3,-3.2,-3.4,
-3.1,-3.3,-3.2,-3.4,-3.1,-3.3,-3.0,-3.4,-3.1,-3.3,
-3.0,-3.3,-3.1,-3.2,-3.0,-3.3,-2.9,-3.2,-3.0,-3.2,
-2.9,-3.2,-3.0,-3.1,-2.9,-3.2,-2.8,-3.1,-2.9,-3.1,
-2.8,-3.1,-2.9,-3.0,-2.8];

// ---------- switch-on at t = 0 ----------
const riseMinutes = [0,0,0.1,0.1,0.1,0.2,0.2,0.3,0.3,0.4];
const emitterRise = [0.4,1.0,1.5,2.1,2.7,3.2,3.7,4.1,4.6,5.1];
const emitterFall = [-0.3,-0.7,-1.2,-1.7,-2.1,-2.6,-3.0,-3.3,-3.6,-3.9];
const collectorRise = [0.3,0.8,1.3,1.9,2.4,2.9,3.4,3.8,4.3,4.8];
const collectorFall = [-0.2,-0.6,-1.0,-1.5,-1.9,-2.4,-2.8,-3.1,-3.4,-3.7];

// ---------- change-over near t = 146.5 ----------
const stepMinutes = [146.2,146.3,146.4,146.5,146.6,146.7,146.8];
const emitterStepPos = [8.6,7.9,7.4,7.0,6.5,6.1,5.9];
const emitterStepNeg = [-7.4,-7.0,-6.6,-6.2,-5.6,-5.2,-4.9];
const collectorStepPos = [8.8,8.2,7.6,7.1,6.5,6.0,5.3];
const collectorStepNeg = [-7.3,-6.8,-6.4,-5.9,-5.5,-5.0,-4.7];
const extractorStepPos = [0.6,1.3,2.0,2.9,3.4,3.9,4.3];
const extractorStepNeg = [-0.5,-1.0,-1.5,-2.0,-2.4,-2.8,-3.1];

// ---------- isolated readings ----------
const emitterOddMinutes = [2.1,19.6,38.3,55.3,68.7,87.9,100.6,101,102.3,102.5,110.5,113.4,120,130.5,133,134.8,139.3,140.4,141.8,143.2,144.6,146,155.7,159.4,166,196,213.2,231,237.2,243,245,247,250.5,
  9.7,22,33.6,36.9,48.3,55.9,65.8,79.2,88.6,89.7,90.9,92.7,97.6,100.8,107.6,111.1,135.3,142,144,147,213.9,230,244.4,244.6,242.5];
const emitterOddCurrent = [6.7,6.3,6.6,11.25,7.5,13.0,6.25,7.0,11.8,7.8,11.8,7.6,7.2,8.0,11.6,12.6,12.2,8.1,6.8,7.1,12.1,12.5,11.8,12.0,0,0,11.4,11.9,7.0,7.3,7.4,7.2,6.8,
  -4.6,-4.75,-5.3,-5.1,-5.9,-8.5,-8.5,-6.5,-8.9,-10.4,-8.9,-6.45,-9.7,-5.9,-6.45,-9.5,-9.25,-6.4,-6.4,-10.4,-10.3,-9.5,-5.5,-6.2,0];
const collectorOddMinutes = [87.9,100.6,101,102.3,110.5,113.4,130.5,134.8,139.3,141.8,143.2,146,159.4,166,196,242.5,237,250.5,79,89.7,92.5,97.6,100.8,111.1,135.3,143,147.7,161,214,230];
const collectorOddCurrent = [12.7,5.9,6.7,11.5,11.5,7.3,7.7,12.3,11.9,6.4,6.8,12.0,6.5,0,0,0,2.6,2.6,-6.1,-10.1,-6.1,-9.4,-5.5,-9.1,-8.9,-6.0,-9.8,-5.4,-5.5,-4.9];
const extractorOddMinutes = [87.9,90,95,100.9,102.4,105.4,110.5,135,142,144.6,89.6,97.3,100.8,102.5,142.3,146.5,146.6,155.7,159.4,166,196,242.5,231,237,250.5,161,213.9,230,244.4];
const extractorOddCurrent = [0.9,0.5,-0.4,4.7,3.2,1.2,0.7,0.9,2.3,0.65,-0.4,-0.5,-9.2,-12.6,-7.8,8.3,-8.9,6.25,7.35,0,0,0,6.25,3.65,3.6,-4.4,-4.7,-4.3,-2.3];

// ---------- axes ----------
const timeMin = -30, timeMax = 270, timeMajor = 30, timeMinor = 10;
const currentMin = -15, currentMax = 15, currentMajor = 5, currentMinor = 1;

const seriesNames = ["Emitter", "Collector", "Extractor"];

function sampled(start: number, step: number, values: number[]) {
  return values.map((v, i) => [start + i * step, v]);
}
function paired(ts: number[], vs: number[]) {
  return ts.map((t, i) => [t, vs[i]]);
}

const PLUS = "path://M4.2,0H5.8V4.2H10V5.8H5.8V10H4.2V5.8H0V4.2H4.2Z";
const PLUS_BAND = "path://M3.9,0H6.1V3.9H10V6.1H6.1V10H3.9V6.1H0V3.9H3.9Z";
const PLUS_ICON = "path://M3.9,0H6.1V3.9H10V6.1H6.1V10H3.9V6.1H0V3.9H3.9Z";

const serif = "'Liberation Serif', 'Times New Roman', serif";
const sans = "'Open Sans', 'Noto Sans', sans-serif";

function buildOption() {
  const emitterBand = [
    ...paired(preMinutes, preCurrent),
    ...paired(riseMinutes, emitterRise),
    ...paired(riseMinutes, emitterFall),
    ...sampled(firstReading, readingStep, emitterPos),
    ...sampled(firstHalfReading, readingStep, emitterPosHalf),
    ...sampled(firstQ1Reading, readingStep, emitterPosQ1),
    ...sampled(firstQ3Reading, readingStep, emitterPosQ3),
    ...sampled(firstReading, readingStep, emitterNeg),
    ...sampled(firstHalfReading, readingStep, emitterNegHalf),
    ...sampled(firstQ1Reading, readingStep, emitterNegQ1),
    ...sampled(firstQ3Reading, readingStep, emitterNegQ3),
  ];
  const emitterSparse = [
    ...paired(stepMinutes, emitterStepPos),
    ...paired(stepMinutes, emitterStepNeg),
    ...paired(emitterOddMinutes, emitterOddCurrent),
  ];
  const collectorBand = [
    ...paired(preMinutes, preCurrent),
    ...sampled(firstReading, readingStep, collectorPos),
    ...sampled(firstReading, readingStep, collectorNeg),
    ...sampled(lateStartA, readingStep, collectorPosLate),
    ...sampled(lateStartA, readingStep, collectorNegLate),
  ];
  const collectorSparse = [
    ...paired(riseMinutes, collectorRise),
    ...paired(riseMinutes, collectorFall),
    ...paired(stepMinutes, collectorStepPos),
    ...paired(stepMinutes, collectorStepNeg),
    ...paired(collectorOddMinutes, collectorOddCurrent),
  ];
  const extractorBand = [
    ...paired(preMinutes, preCurrent),
    ...sampled(firstReading, readingStep, extractorPos),
    ...sampled(firstReading, readingStep, extractorNeg),
    ...sampled(firstHalfReading, readingStep, extractorFlatHalf),
    ...sampled(lateStartA, readingStep, extractorPosLateA),
    ...sampled(lateStartB, readingStep, extractorPosLateB),
    ...sampled(lateStartA, readingStep, extractorNegLateA),
    ...sampled(lateStartB, readingStep, extractorNegLateB),
  ];
  const extractorSparse = [
    ...paired(stepMinutes, extractorStepPos),
    ...paired(stepMinutes, extractorStepNeg),
    ...paired(extractorOddMinutes, extractorOddCurrent),
  ];

  const xLabelStyle = { color: "#000", fontFamily: serif, fontWeight: "bold" as const, fontSize: 25 };
  const yLabelStyle = { color: "#000", fontFamily: serif, fontWeight: "bold" as const, fontSize: 29 };
  const nameStyle = { color: "#000", fontFamily: serif, fontWeight: "bold" as const, fontSize: 26 };

  const common = { type: "scatter", progressive: 0, large: false, silent: true };

  return {
    animation: false,
    backgroundColor: "#fff",
    legend: {
      left: 342,
      top: 7,
      padding: [11, 18, 11, 20],
      itemGap: 25,
      itemWidth: 14,
      itemHeight: 14,
      borderColor: "#000",
      borderWidth: 1,
      backgroundColor: "#fff",
      selectedMode: false,
      textStyle: { color: "#000", fontFamily: sans, fontWeight: "bold", fontSize: 18 },
      data: [
        { name: seriesNames[0], icon: "circle", itemStyle: { color: "rgba(0,0,0,0)", borderColor: "#000", borderWidth: 2.5 } },
        { name: seriesNames[1], icon: PLUS_ICON, itemStyle: { color: "#0070C0", borderWidth: 0 } },
        { name: seriesNames[2], icon: "triangle", itemStyle: { color: "rgba(0,0,0,0)", borderColor: "#FF0000", borderWidth: 2.5 } },
      ],
    },
    grid: {
      left: 102, top: 65, width: 852, height: 384,
      show: true, borderColor: "#000", borderWidth: 2, backgroundColor: "#fff",
    },
    xAxis: [
      {
        type: "value", min: timeMin, max: timeMax, interval: timeMajor, position: "bottom", z: 1,
        axisLine: { show: true, onZero: false, lineStyle: { color: "#000", width: 2 } },
        axisTick: { show: true, inside: false, length: 6, lineStyle: { color: "#000", width: 2 } },
        axisLabel: { ...xLabelStyle, margin: 17 },
        splitLine: { show: true, lineStyle: { color: "#A6A6A6", width: 1.6 } },
        name: "Time (minutes)", nameLocation: "middle", nameGap: 55, nameTextStyle: nameStyle,
      },
      {
        type: "value", min: timeMin, max: timeMax, interval: timeMinor, position: "bottom", z: 0,
        axisLine: { show: false, onZero: false },
        axisTick: { show: true, inside: true, length: 5, lineStyle: { color: "#000", width: 1.5 } },
        axisLabel: { show: false },
        splitLine: { show: true, lineStyle: { color: "#D9D9D9", width: 2.5 } },
      },
    ],
    yAxis: [
      {
        type: "value", min: currentMin, max: currentMax, interval: currentMajor, position: "left", z: 1,
        axisLine: { show: true, onZero: false, lineStyle: { color: "#000", width: 2 } },
        axisTick: { show: true, inside: false, length: 7, lineStyle: { color: "#000", width: 2 } },
        axisLabel: { ...yLabelStyle, margin: 13 },
        splitLine: { show: true, lineStyle: { color: "#A6A6A6", width: 1.6 } },
        name: "Current (μA)", nameLocation: "middle", nameGap: 62, nameRotate: 90, nameTextStyle: nameStyle,
      },
      {
        type: "value", min: currentMin, max: currentMax, interval: currentMinor, position: "left", z: 0,
        axisLine: { show: false, onZero: false },
        axisTick: { show: true, inside: true, length: 5, lineStyle: { color: "#000", width: 1.5 } },
        axisLabel: { show: false },
        splitLine: { show: true, lineStyle: { color: "#D9D9D9", width: 2.5 } },
      },
    ],
    series: [
      {
        ...common, name: seriesNames[0], data: emitterBand, symbol: "circle", symbolSize: 7, z: 3,
        itemStyle: { color: "rgba(0,0,0,0)", borderColor: "#000", borderWidth: 2.1 },
      },
      {
        ...common, name: seriesNames[0], data: emitterSparse, symbol: "circle", symbolSize: 7, z: 3,
        itemStyle: { color: "rgba(0,0,0,0)", borderColor: "#000", borderWidth: 1.4 },
      },
      {
        ...common, name: seriesNames[1], data: collectorBand, symbol: PLUS_BAND, symbolSize: 7.5, z: 2,
        itemStyle: { color: "#0070C0", borderWidth: 0 },
      },
      {
        ...common, name: seriesNames[1], data: collectorSparse, symbol: PLUS, symbolSize: 7.5, z: 2,
        itemStyle: { color: "#0070C0", borderWidth: 0 },
      },
      {
        ...common, name: seriesNames[2], data: extractorBand, symbol: "triangle", symbolSize: 7.5, z: 4,
        itemStyle: { color: "rgba(0,0,0,0)", borderColor: "#FF0000", borderWidth: 1.8 },
      },
      {
        ...common, name: seriesNames[2], data: extractorSparse, symbol: "triangle", symbolSize: 7.5, z: 4,
        itemStyle: { color: "rgba(0,0,0,0)", borderColor: "#FF0000", borderWidth: 1.3 },
      },
    ],
  };
}

export default function App() {
  const ref = useRef<HTMLDivElement>(null);
  useEffect(() => {
    if (!ref.current) return;
    const chart = echarts.init(ref.current, undefined, { renderer: "svg" });
    chart.setOption(buildOption() as any);
    return () => chart.dispose();
  }, []);
  return <div ref={ref} style={{ position: "fixed", left: 0, top: 0, width: 976, height: 535, background: "#fff" }} />;
}
